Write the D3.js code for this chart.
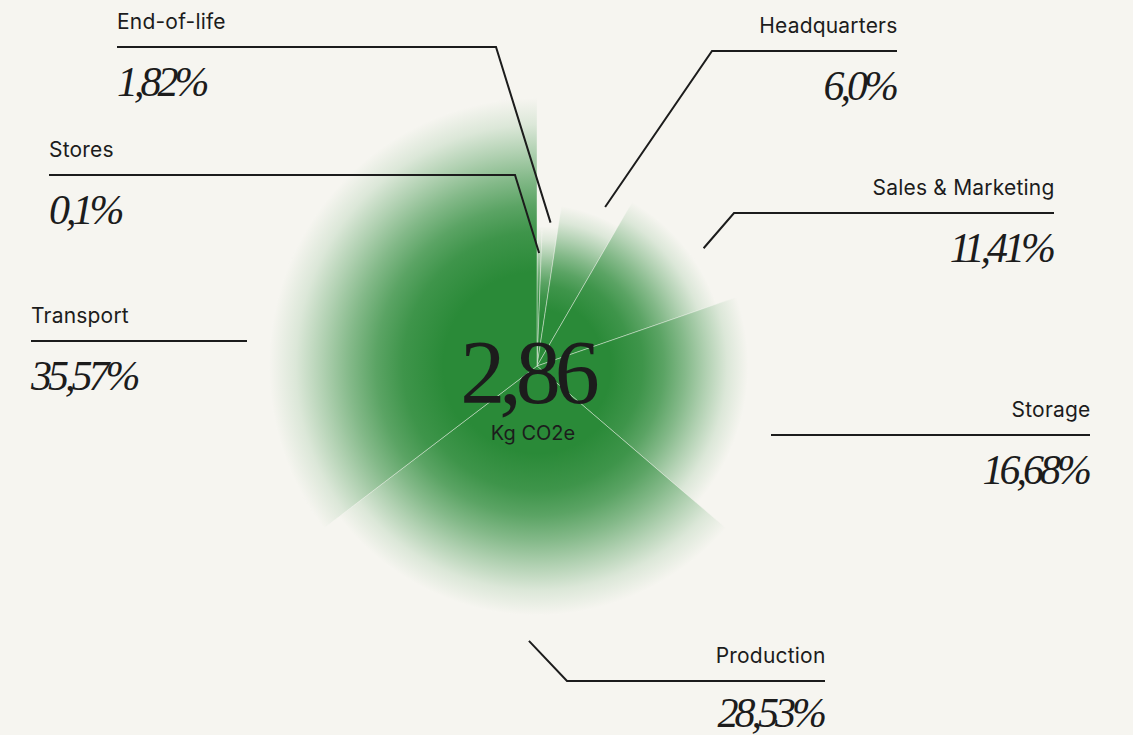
<!DOCTYPE html>
<html>
<head>
<meta charset="utf-8">
<script src="https://cdn.jsdelivr.net/npm/d3@7"></script>
<style>
  html, body { margin: 0; padding: 0; background: #f6f5f0; }
  svg { display: block; }
  .lbl { font-family: Inter, "Liberation Sans", sans-serif; font-size: 21px; letter-spacing: 0.2px; fill: #1c1c1c; }
  .val { font-family: "Liberation Serif", serif; font-style: italic; font-size: 42px; letter-spacing: -4px; fill: #1c1c1c; }
  .lead { stroke: #1c1c1c; stroke-width: 2; fill: none; }
</style>
</head>
<body>
<div id="chartArea"></div>
<script>
// slices clockwise from 12 o'clock
const categories = ["Stores", "End-of-life", "Headquarters", "Sales & Marketing", "Storage", "Production", "Transport"];
const shares = [0.1, 1.82, 6.0, 11.41, 16.68, 28.53, 35.57];
const shareLabels = ["0,1%", "1,82%", "6,0%", "11,41%", "16,68%", "28,53%", "35,57%"];
const totalValue = "2,86";
const totalUnit = "Kg CO2e";

const w = 1133;
const h = 735;
const cx = 537, cy = 366;
const green = "#2a8a38";

// label placement, same order as categories (nudge in degrees for the leader tip)
const labelLayout = [
  {x: 49, y: 157, anchor: "start", lineEnd: 515, tip: 113, nudge: 0},
  {x: 117, y: 29, anchor: "start", lineEnd: 496, tip: 144, nudge: 0},
  {x: 897, y: 33, anchor: "end", lineEnd: 712, tip: 173, nudge: 3.8},
  {x: 1054, y: 195, anchor: "end", lineEnd: 734, tip: 204, nudge: 4.2},
  {x: 1090, y: 417, anchor: "end", lineEnd: 771, tip: null, nudge: 0},
  {x: 825, y: 663, anchor: "end", lineEnd: 567, tip: 275, nudge: 0},
  {x: 31, y: 323, anchor: "start", lineEnd: 247, tip: null, nudge: 0}
];

const svg = d3.select("#chartArea")
    .append("svg")
    .attr("width", w)
    .attr("height", h);

svg.append("rect")
    .attr("width", w)
    .attr("height", h)
    .attr("fill", "#f6f5f0");

const r = d3.scaleSqrt()
    .domain([0, d3.max(shares)])
    .range([88, 268]);
const radius = v => Math.max(140, r(v));

const pie = d3.pie()
    .sort(null)
    .value(d => Math.max(d, 0.6));

const arcs = pie(shares);

const arc = d3.arc()
    .innerRadius(0)
    .outerRadius(d => radius(d.data));

const defs = svg.append("defs");
const stops = [[0, 1], [0.35, 1], [0.5, 0.9], [0.6, 0.76], [0.7, 0.56], [0.8, 0.34], [0.9, 0.13], [1, 0]];

arcs.forEach((d, i) => {
    const g = defs.append("radialGradient")
        .attr("id", `grad${i}`)
        .attr("gradientUnits", "userSpaceOnUse")
        .attr("cx", 0)
        .attr("cy", 0)
        .attr("r", radius(d.data));
    stops.forEach(s => {
        g.append("stop")
            .attr("offset", s[0])
            .attr("stop-color", green)
            .attr("stop-opacity", s[1]);
    });
});

const chart = svg.append("g")
    .attr("transform", `translate(${cx},${cy})`);

chart.selectAll("path.slice")
    .data(arcs)
    .enter()
    .append("path")
    .attr("class", "slice")
    .attr("d", arc)
    .attr("fill", (d, i) => `url(#grad${i})`)
    .attr("stroke", "#f6f5f0")
    .attr("stroke-width", 0.7)
    .attr("stroke-opacity", 0.6);

// labels and leader lines
const polar = (a, d) => [cx + d * Math.sin(a), cy - d * Math.cos(a)];

arcs.forEach((d, i) => {
    const L = labelLayout[i];
    const lineY = L.y + 18;
    let pts = [[L.x, lineY], [L.lineEnd, lineY]];
    if (L.tip !== null) {
        const a = (d.startAngle + d.endAngle) / 2 + L.nudge * Math.PI / 180;
        pts.push(polar(a, L.tip));
    }
    svg.append("path")
        .attr("class", "lead")
        .attr("d", d3.line()(pts));

    svg.append("text")
        .attr("class", "lbl")
        .attr("x", L.anchor === "end" ? L.x + 0.5 : L.x)
        .attr("y", L.y)
        .attr("text-anchor", L.anchor)
        .text(categories[i]);

    svg.append("text")
        .attr("class", "val")
        .attr("x", L.anchor === "end" ? L.x - 2 : L.x)
        .attr("y", Math.min(L.y + 67, 727))
        .attr("text-anchor", L.anchor)
        .text(shareLabels[i]);
});

// centre total
svg.append("text")
    .attr("x", 527)
    .attr("y", 403)
    .attr("text-anchor", "middle")
    .attr("font-family", "Liberation Serif, serif")
    .attr("font-size", 90)
    .attr("letter-spacing", "-6px")
    .attr("fill", "#1c1c1c")
    .text(totalValue);

svg.append("text")
    .attr("x", 533)
    .attr("y", 440)
    .attr("text-anchor", "middle")
    .attr("font-family", "Inter, Liberation Sans, sans-serif")
    .attr("font-size", 20)
    .attr("fill", "#1c1c1c")
    .text(totalUnit);
</script>
</body>
</html>
